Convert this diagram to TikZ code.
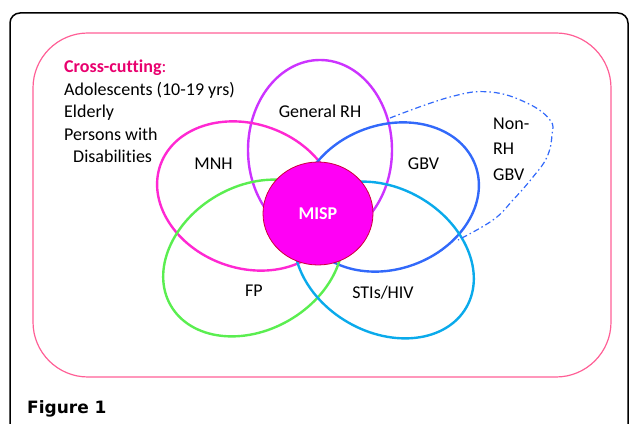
\documentclass[tikz,border=0pt]{standalone}
\usepackage{fontspec}
\setmainfont{Carlito}[Ligatures=NoCommon]
\newfontfamily\figfont{DejaVu Sans}
\usetikzlibrary{positioning,shapes.geometric}
\definecolor{cutpink}{RGB}{255,95,150}
\definecolor{crossred}{RGB}{232,0,110}
\definecolor{rhpurple}{RGB}{204,51,255}
\definecolor{mnhpink}{RGB}{255,40,210}
\definecolor{gbvblue}{RGB}{50,105,250}
\definecolor{fpgreen}{RGB}{90,238,80}
\definecolor{stiscyan}{RGB}{10,170,235}
\definecolor{mispfill}{RGB}{255,0,245}
\definecolor{mispline}{RGB}{205,0,60}
\tikzset{venn/.style={line width=2.4pt}}
\tikzset{lbl/.style={font=\fontsize{18}{22}\selectfont, inner sep=0pt, anchor=base}}
\tikzset{lblw/.style={lbl, anchor=base west}}

\begin{document}
\begin{tikzpicture}[x=1pt,y=1pt]
  \useasboundingbox (0,0) rectangle (629,423);
  % frames
  \draw[line width=1.5pt, rounded corners=10pt] (10,-12) rectangle (628,410);
  \draw[cutpink, line width=1.2pt, rounded corners=55pt] (33,46) rectangle (611,390);

  % cross-cutting list
  \node[lblw] (cross) at (64,350) {\textcolor{crossred}{\textbf{Cross-cutting}:}};
  \node[lblw] (adol) at ([yshift=-22.5pt]cross.base west) {Adolescents (10-19 yrs)};
  \node[lblw] (elder) at ([yshift=-22.5pt]adol.base west) {Elderly};
  \node[lblw] (pers) at ([yshift=-22.5pt]elder.base west) {Persons with};
  \node[lblw] (disab) at ([xshift=9pt,yshift=-22.5pt]pers.base west) {Disabilities};

  % circles
  \draw[venn, rhpurple] (320,273) ellipse (72 and 90);
  \draw[venn, mnhpink, rotate around={-20:(247,227)}] (247,227) ellipse (92 and 72);
  \draw[venn, gbvblue, rotate around={20:(389,226)}] (389,226) ellipse (92 and 72);
  \draw[venn, fpgreen, rotate around={30:(253,165)}] (253,165) ellipse (95 and 72);
  \draw[venn, stiscyan, rotate around={-30:(384,163)}] (384,163) ellipse (95 and 72);

  % non-RH GBV
  \draw[gbvblue, line width=1.2pt, dash pattern=on 6pt off 3pt on 1.5pt off 3pt] plot[smooth, tension=0.7] coordinates
    {(390,305) (450,326) (490,331) (527,320) (550,303) (552,288) (547,266) (533,246) (513,223) (493,203) (458,183)};

  % MISP
  \node[ellipse, draw=mispline, fill=mispfill, line width=0.8pt,
    minimum width=110pt, minimum height=103pt, inner sep=0pt,
    text=white, font=\fontsize{18}{22}\selectfont\bfseries] (misp) at (318,209.5) {MISP};

  % labels
  \node[lbl] (genrh) at (320,305) {General RH};
  \node[lbl] (mnh) at (213.5,253) {MNH};
  \node[lbl] (gbv) at (423.5,253) {GBV};
  \node[lbl] (fp) at (254,126) {FP};
  \node[lbl] (stis) at (383,124) {STIs/HIV};
  \node[lblw] (non) at (493,293) {Non-};
  \node[lblw] (nonrh) at (493,268) {RH};
  \node[lblw] (nongbv) at (493,242) {GBV};

  \node[anchor=base west, inner sep=0pt, font=\figfont\fontsize{17}{20}\selectfont\bfseries] (fig) at (27,10) {Figure 1};
\end{tikzpicture}
\end{document}
